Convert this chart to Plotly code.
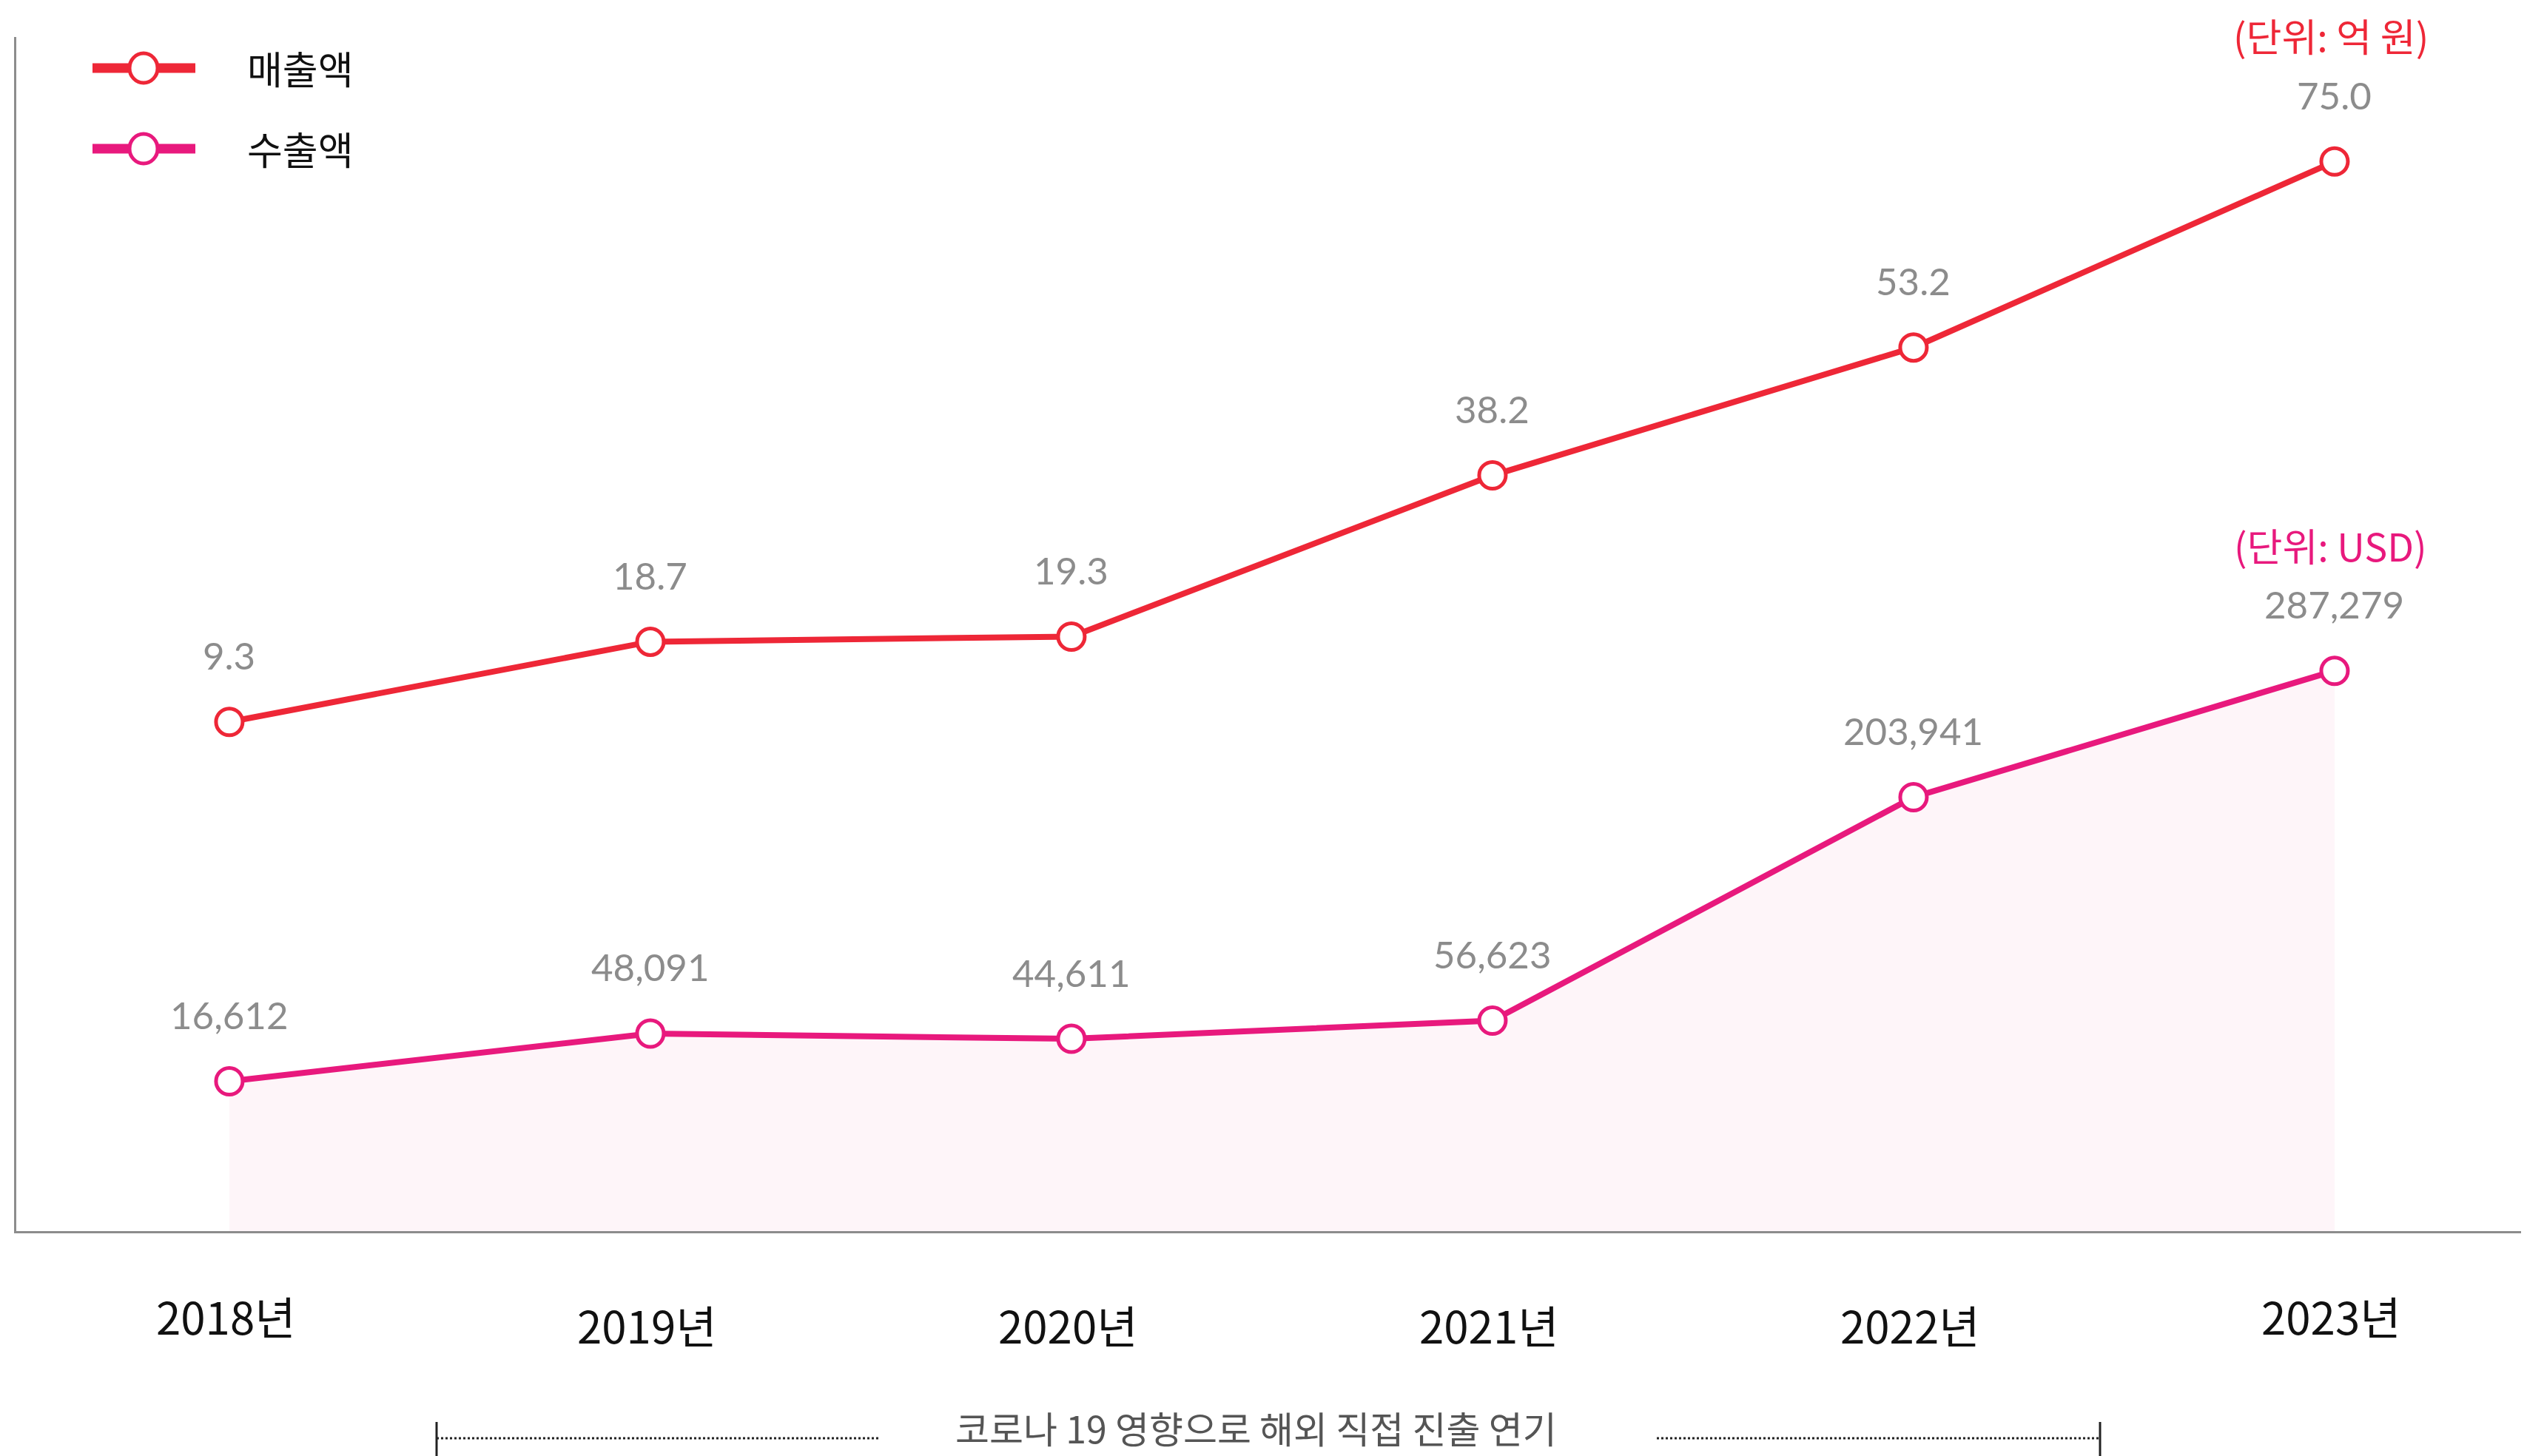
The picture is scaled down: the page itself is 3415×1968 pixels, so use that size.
import plotly.graph_objects as go

# ---- data ----
years = ["2018년", "2019년", "2020년", "2021년", "2022년", "2023년"]
sales = [9.3, 18.7, 19.3, 38.2, 53.2, 75.0]            # 매출액 (억 원)
exports = [16612, 48091, 44611, 56623, 203941, 287279]  # 수출액 (USD)
sales_labels = ["9.3", "18.7", "19.3", "38.2", "53.2", "75.0"]
export_labels = ["16,612", "48,091", "44,611", "56,623", "203,941", "287,279"]
series_names = ["매출액", "수출액"]
unit_labels = ["(단위: 억 원)", "(단위: USD)"]
note_text = "코로나 19 영향으로 해외 직접 진출 연기"

# ---- styling ----
PAGE_W, PAGE_H = 3415, 1968
OFF = 8  # default body margin of the html page
W, H = PAGE_W - OFF, PAGE_H - OFF
L, R, T, B = 22, 3415, 50, 1664   # plot area in page pixels
RED = "#ee2737"
PINK = "#e8197d"
GREY = "#8c8c8c"
FILL = "#fef5f9"
KR = "Noto Sans CJK KR"
NUM = "Lato"

RED_RANGE = [-50.4, 89.6]
PINK_RANGE = [-82178, 705216]
X_RANGE = [-0.506, 5.457]

def px(x):
    return (x - L) / (R - L)

def py(y):
    return (B - y) / (B - T)

fig = go.Figure()

# baseline for the area fill (bottom of the export axis)
fig.add_trace(go.Scatter(x=years, y=[PINK_RANGE[0]] * len(years), yaxis="y2",
                         mode="lines", line=dict(width=0, color="rgba(0,0,0,0)"),
                         hoverinfo="skip", showlegend=False))
fig.add_trace(go.Scatter(x=years, y=exports, yaxis="y2", mode="lines",
                         line=dict(width=0, color="rgba(0,0,0,0)"),
                         fill="tonexty", fillcolor=FILL,
                         hoverinfo="skip", showlegend=False))

marker_common = dict(size=36, color="white", symbol="circle")
fig.add_trace(go.Scatter(x=years, y=exports, yaxis="y2", mode="lines+markers",
                         name=series_names[1],
                         line=dict(color=PINK, width=8),
                         marker=dict(**marker_common, line=dict(color=PINK, width=5)),
                         showlegend=False))
fig.add_trace(go.Scatter(x=years, y=sales, yaxis="y", mode="lines+markers",
                         name=series_names[0],
                         line=dict(color=RED, width=8),
                         marker=dict(**marker_common, line=dict(color=RED, width=5)),
                         showlegend=False))

annotations = []
# value labels
for xv, yv, t in zip(years, sales, sales_labels):
    annotations.append(dict(x=xv, y=yv, xref="x", yref="y", text=t, showarrow=False,
                            yshift=90, yanchor="middle", xanchor="center",
                            font=dict(family=NUM, size=51, color=GREY)))
for xv, yv, t in zip(years, exports, export_labels):
    annotations.append(dict(x=xv, y=yv, xref="x", yref="y2", text=t, showarrow=False,
                            yshift=90, yanchor="middle", xanchor="center",
                            font=dict(family=NUM, size=51, color=GREY)))

# unit labels
annotations.append(dict(x=years[-1], y=sales[-1], xref="x", yref="y", text=unit_labels[0],
                        showarrow=False, yshift=171, xshift=-5, yanchor="middle",
                        font=dict(family=KR, size=52, color=RED)))
annotations.append(dict(x=years[-1], y=exports[-1], xref="x", yref="y2", text=unit_labels[1],
                        showarrow=False, yshift=170, xshift=-5, yanchor="middle",
                        font=dict(family=KR, size=52, color=PINK)))

# year labels (staggered)
label_y = [1777, 1790, 1790, 1790, 1790, 1777]
for xv, ly in zip(years, label_y):
    annotations.append(dict(x=xv, y=py(ly), xref="x", yref="paper", text=xv,
                            showarrow=False, xshift=-5, yanchor="middle", xanchor="center",
                            font=dict(family=KR, size=60, color="#111111")))

# legend
legend_rows = [(92, RED, series_names[0]), (201, PINK, series_names[1])]
shapes = []
for ly, col, name in legend_rows:
    shapes.append(dict(type="line", xref="paper", yref="paper",
                       x0=px(125), x1=px(264), y0=py(ly), y1=py(ly),
                       line=dict(color=col, width=13)))
    shapes.append(dict(type="circle", xref="paper", yref="paper",
                       x0=px(194 - 19), x1=px(194 + 19), y0=py(ly - 20), y1=py(ly + 20),
                       fillcolor="white", line=dict(color=col, width=5)))
    annotations.append(dict(x=px(332), y=py(ly), xref="paper", yref="paper", text=name,
                            showarrow=False, xanchor="left", yanchor="middle",
                            font=dict(family=KR, size=52, color="#111111")))

# bottom note with bracket
NOTE_Y = 1944
for x0, x1 in [(590, 1187), (2239, 2838)]:
    shapes.append(dict(type="line", xref="paper", yref="paper",
                       x0=px(x0), x1=px(x1), y0=py(NOTE_Y), y1=py(NOTE_Y),
                       line=dict(color="#222222", width=3, dash="dot")))
for xb in [590, 2838]:
    shapes.append(dict(type="line", xref="paper", yref="paper",
                       x0=px(xb), x1=px(xb), y0=py(1922), y1=py(1968),
                       line=dict(color="#222222", width=3)))
annotations.append(dict(x=px(1697), y=py(1929), xref="paper", yref="paper", text=note_text,
                        showarrow=False, xanchor="center", yanchor="middle",
                        font=dict(family=KR, size=50, color="#555555")))

fig.update_layout(
    width=W, height=H,
    margin=dict(l=L - OFF, r=0, t=T - OFF, b=H - (B - OFF), pad=0),
    paper_bgcolor="white", plot_bgcolor="white",
    showlegend=False,
    xaxis=dict(range=X_RANGE, showgrid=False, zeroline=False, showticklabels=False,
               ticks="", showline=True, linecolor=GREY, linewidth=3),
    yaxis=dict(range=RED_RANGE, showgrid=False, zeroline=False, showticklabels=False,
               ticks="", showline=True, linecolor=GREY, linewidth=3),
    yaxis2=dict(range=PINK_RANGE, overlaying="y", showgrid=False, zeroline=False,
                showticklabels=False, ticks="", showline=False),
    annotations=annotations,
    shapes=shapes,
)

fig.write_html("out.html")
